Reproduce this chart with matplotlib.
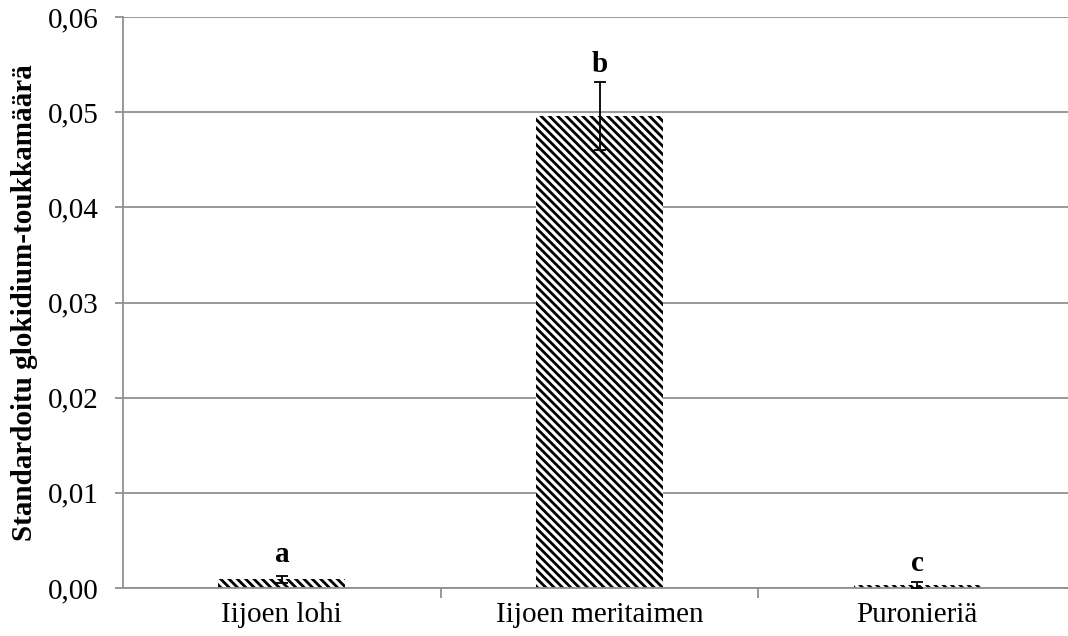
import numpy as np
import matplotlib.pyplot as plt

# data
groups = ["Iijoen lohi", "Iijoen meritaimen", "Puronieriä"]
means = [0.0009, 0.0496, 0.0003]
errors = [0.0004, 0.0036, 0.0003]
letters = ["a", "b", "c"]
letter_y = [0.0035, 0.0550, 0.0026]
yticks = [0.00, 0.01, 0.02, 0.03, 0.04, 0.05, 0.06]

plt.rcParams['font.family'] = ['Liberation Serif', 'DejaVu Serif']
plt.rcParams['hatch.linewidth'] = 2.0
plt.rcParams['hatch.color'] = 'black'

fig = plt.figure(figsize=(10.68, 6.36), dpi=100)
# axes runs a bit past the right edge, like in the original
ax = fig.add_axes([123 / 1068, 1 - 588 / 636, 953 / 1068, 571 / 636])

x = np.arange(len(groups))
ax.bar(x, means, width=0.4, color='white', edgecolor='black', linewidth=0,
       hatch='\\\\\\\\', zorder=2)
ax.errorbar(x, means, yerr=errors, fmt='none', ecolor='black', elinewidth=1.3,
            capsize=4.5, capthick=1.3, zorder=3)

for xi, lab, ly in zip(x, letters, letter_y):
    ax.text(xi, ly, lab, ha='center', va='center', fontsize=21, fontweight='bold')

ax.set_xlim(-0.5, 2.5)
ax.set_ylim(0, 0.06)
ax.set_yticks(yticks)
ax.set_yticklabels([f"{v:.2f}".replace('.', ',') for v in yticks], fontsize=21)
ax.yaxis.grid(True, color='#909090', linewidth=1.3, zorder=0)
ax.set_axisbelow(True)

# category labels centred, ticks between categories
ax.set_xticks(x)
ax.set_xticklabels(groups, fontsize=21)
ax.tick_params(axis='x', length=0, pad=10)
ax.set_xticks([0.5, 1.5], minor=True)
ax.tick_params(axis='x', which='minor', length=7, width=1.3, color='#909090')
ax.tick_params(axis='y', length=6, width=1.3, color='#909090', pad=11.5)

for side in ['top', 'right']:
    ax.spines[side].set_visible(False)
for side in ['left', 'bottom']:
    ax.spines[side].set_color('#909090')
    ax.spines[side].set_linewidth(1.3)

ax.set_ylabel("Standardoitu glokidium-toukkamäärä", fontsize=21, fontweight='bold',
              labelpad=7)

fig.savefig("out.png", dpi=100)
